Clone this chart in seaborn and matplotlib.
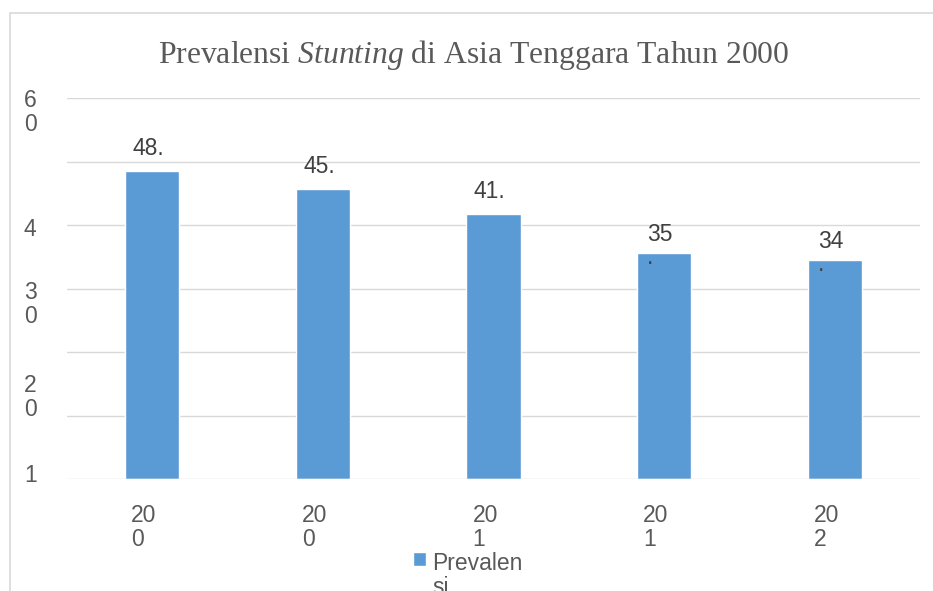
import matplotlib
matplotlib.use("Agg")
import matplotlib.pyplot as plt
import matplotlib.transforms as mtransforms
from matplotlib.patches import Rectangle
from matplotlib.container import BarContainer
from matplotlib.legend_handler import HandlerPatch, update_from_first_child
import seaborn as sns
import pandas as pd

# ---- data ----
years = ["2000", "2005", "2010", "2015", "2020"]
prevalence = [48.5, 45.7, 41.7, 35.6, 34.5]
x_tick_labels = ["20\n0", "20\n0", "20\n1", "20\n1", "20\n2"]
value_labels_line1 = ["48.", "45.", "41.", "35", "34"]
value_labels_line2 = ["", "", "", ".", "."]
y_tick_labels = ["6\n0", "4", "3\n0", "2\n0", "1"]
y_tick_label_pos = [57.7, 39.3, 27.5, 12.8, 0.5]
grid_values = [10, 20, 30, 40, 50, 60]
legend_label = "Prevalen\nsi"
title_text = r"Prevalensi $\mathit{Stunting}$ di Asia Tenggara Tahun 2000"

sns.set_style("white")
plt.rcParams["font.family"] = ["Liberation Sans", "DejaVu Sans"]
plt.rcParams["mathtext.fontset"] = "custom"
plt.rcParams["mathtext.it"] = "Liberation Serif:italic"
plt.rcParams["mathtext.rm"] = "Liberation Serif"

W, H, DPI = 933, 591, 100
fig = plt.figure(figsize=(W / DPI, H / DPI), dpi=DPI)
left, right, top, bottom = 67, 920, 98, 479
ax = fig.add_axes([left / W, 1 - bottom / H, (right - left) / W, (bottom - top) / H])

df = pd.DataFrame({"year": years, "val": prevalence})
bar_color = "#5B9BD5"
sns.barplot(data=df, x="year", y="val", color=bar_color, width=0.317,
            saturation=1, ax=ax, label=legend_label, zorder=2)

ax.set_ylim(0, 60)
ax.set_xlim(-0.5, len(years) - 0.5)
for s in ax.spines.values():
    s.set_visible(False)
grid_c = "#D9D9D9"
for g in grid_values:
    ax.axhline(g, color=grid_c, lw=1.0, zorder=1)
ax.axhline(0, color=grid_c, lw=1.0, zorder=3)

ax.set_xlabel("")
ax.set_ylabel("")

txt_c = "#595959"
fs = 16.5
# x tick labels
ax.set_xticks(range(len(years)))
ax.set_xticklabels(x_tick_labels, fontsize=fs, color=txt_c, ha="left",
                   multialignment="left", linespacing=1.05)
ax.tick_params(axis="x", length=0, pad=18)
off = mtransforms.ScaledTranslation(-21 / DPI, 0, fig.dpi_scale_trans)
for lbl in ax.get_xticklabels():
    lbl.set_transform(lbl.get_transform() + off)

# y tick labels
ax.set_yticks(y_tick_label_pos)
ax.set_yticklabels(y_tick_labels, fontsize=fs, color=txt_c, ha="left",
                   va="center", multialignment="left", linespacing=1.05)
ax.tick_params(axis="y", length=0, pad=31)

# value labels
lab_c = "#404040"
for i, v in enumerate(prevalence):
    two = value_labels_line2[i] != ""
    ax.annotate(value_labels_line1[i], (i, v), xytext=(-4, 12 if two else 16),
                textcoords="offset pixels", ha="center", va="baseline",
                fontsize=fs, color=lab_c, zorder=5)
    if two:
        ax.annotate(value_labels_line2[i], (i, v), xytext=(-17, -11),
                    textcoords="offset pixels", ha="left", va="baseline",
                    fontsize=fs, color=lab_c, zorder=5)

# title
fig.text(474 / W, 1 - 63 / H, title_text, ha="center", va="baseline",
         fontsize=22.75, color=txt_c, family="Liberation Serif")


# legend (swatch aligned with first line of the wrapped label)
def raised_patch(legend, orig_handle, xdescent, ydescent, width, height, fontsize):
    return Rectangle((-xdescent, -ydescent + 12.2), width, height)


leg = ax.legend(loc="upper left", bbox_to_anchor=(413 / W, 1 - 552 / H),
                bbox_transform=fig.transFigure, frameon=False, fontsize=fs,
                handlelength=0.55, handleheight=0.55, handletextpad=0.3,
                borderpad=0, borderaxespad=0,
                handler_map={BarContainer: HandlerPatch(
                    patch_func=raised_patch, update_func=update_from_first_child)})
for t in leg.get_texts():
    t.set_color(txt_c)
    t.set_linespacing(1.05)

# chart border
fig.add_artist(Rectangle((10 / W, -0.2), 1.2, 1.2 - 13 / H,
                         transform=fig.transFigure, fill=False,
                         edgecolor=grid_c, lw=1.2))

fig.savefig("out.png", dpi=DPI)
